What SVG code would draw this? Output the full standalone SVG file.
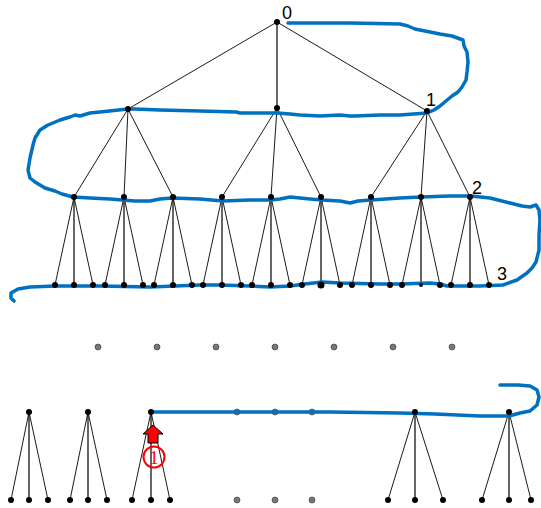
<svg xmlns="http://www.w3.org/2000/svg" width="541" height="508" viewBox="0 0 541 508">
<style>
.e{stroke:#000;stroke-width:0.9;fill:none}
.v{stroke:#000;stroke-width:1.2;fill:none}
.n{fill:#000}
.g{fill:#777;stroke:#333;stroke-width:0.6}
.lbl{font-family:"Liberation Sans",Arial,sans-serif;font-size:18px;fill:#000}
.blue{fill:none;stroke:#0070C0;stroke-width:3.5;stroke-linejoin:round;stroke-linecap:round}
</style>
<rect width="541" height="508" fill="#fff"/>
<g id="connectors">
<path class="e" d="M277,22L128,109M277,22L427,111"/>
<path class="v" d="M277,22L277,108"/>
<path class="e" d="M128,109L74,197M128,109L124,197M128,109L173,197M277,108L222,197M277,108L271,197M277,108L321,197M427,111L371,197M427,111L421,197M427,111L470,197"/>
<path class="e" d="M74,197L55,285M74,197L93,285M124,197L105,285M124,197L143,285M173,197L154,285M173,197L192,285M222,197L203,285M222,197L241,285M271,197L252,285M271,197L290,285M321,197L302,285M321,197L340,285M371,197L352,285M371,197L390,285M421,197L402,285M421,197L440,285M470,197L451,285M470,197L489,285"/>
<path class="v" d="M74,197V285M124,197V285M173,197V285M222,197V285M271,197V285M321,197V285M371,197V285M421,197V285M470,197V285"/>
<path class="e" d="M29,412L11,500M29,412L48,500M88,412L70,500M88,412L107,500M151,412L132,500M151,412L170,500M415,412L388,500M415,412L443,500M509,412L482,500M509,412L531,500"/>
<path class="v" d="M29,412V500M88,412V500M151,412V500M415,412V500M509,412V500"/>
</g>
<g id="ellipsis">
<circle class="g" cx="98" cy="347" r="3"/><circle class="g" cx="157" cy="347" r="3"/><circle class="g" cx="216" cy="347" r="3"/><circle class="g" cx="275" cy="347" r="3"/><circle class="g" cx="334" cy="347" r="3"/><circle class="g" cx="393" cy="347" r="3"/><circle class="g" cx="452" cy="347" r="3"/>
<circle class="g" cx="237" cy="412" r="3"/><circle class="g" cx="275" cy="412" r="3"/><circle class="g" cx="312" cy="412" r="3"/>
<circle class="g" cx="237" cy="500" r="3"/><circle class="g" cx="275" cy="500" r="3"/><circle class="g" cx="312" cy="500" r="3"/>
</g>
<g id="strokes">
<polyline class="blue" points="288,23 350,23 400,24 408,26 415,29 425,31 440,34 452,36 463,40 464,46 467,52 468,62 467,72 466,80 462,87 458,92 452,96 446,101 440,106 434,110 427,113 400,115 380,115 355,116 350,116 340,115 320,116 300,115 290,114 277,113 240,113 236,112 200,111 160,110 135,109 128,109 100,112 90,113 80,116 75,115 70,117 60,120 48,125 40,130 35,138 33,145 30,158 28,170 30,178 35,182 45,188 55,191 62,194 73,197 90,198 110,199 123,200 135,201 150,201 160,199 172,198 200,199 223,201 250,200 270,200 280,199 290,197 310,199 322,200 340,201 350,203 358,201 371,200 400,198 421,197 450,196 471,196 490,198 510,203 522,206 530,207 536,205 539,210 540,220 539,235 539,250 536,262 532,268 527,273 517,280 503,285 480,286 460,286 447,286 440,284 430,283 400,284 380,284 340,283 322,282 305,284 290,286 270,287 250,286 220,285 200,285 175,286 150,287 100,286 55,286 30,287 18,289 11,293 11,298 14,301"/>
<polyline class="blue" points="151,412 250,412 330,412 400,413 435,414 480,416 509,416 520,413 530,411 537,405 539,397 537,390 530,386 518,385 500,385"/>
</g>
<g id="n0"><circle class="n" cx="277" cy="22" r="3"/></g>
<g id="n1a"><circle class="n" cx="128" cy="109" r="3"/></g>
<g id="n1b"><circle class="n" cx="277" cy="108" r="3"/></g>
<g id="n1c"><circle class="n" cx="427" cy="111" r="3"/></g>
<g id="n2a"><circle class="n" cx="74" cy="197" r="3"/></g>
<g id="n2b"><circle class="n" cx="124" cy="197" r="3"/></g>
<g id="n2c"><circle class="n" cx="173" cy="197" r="3"/></g>
<g id="n2d"><circle class="n" cx="222" cy="197" r="3"/></g>
<g id="n2e"><circle class="n" cx="271" cy="197" r="3"/></g>
<g id="n2f"><circle class="n" cx="321" cy="197" r="3"/></g>
<g id="n2g"><circle class="n" cx="371" cy="197" r="3"/></g>
<g id="n2h"><circle class="n" cx="421" cy="197" r="3"/></g>
<g id="n2i"><circle class="n" cx="470" cy="197" r="3"/></g>
<g id="n3">
<circle class="n" cx="55" cy="285" r="3"/><circle class="n" cx="74" cy="285" r="3"/><circle class="n" cx="93" cy="285" r="3"/>
<circle class="n" cx="105" cy="285" r="3"/><circle class="n" cx="124" cy="285" r="3"/><circle class="n" cx="143" cy="285" r="3"/>
<circle class="n" cx="154" cy="285" r="3"/><circle class="n" cx="173" cy="285" r="3"/><circle class="n" cx="192" cy="285" r="3"/>
<circle class="n" cx="203" cy="285" r="3"/><circle class="n" cx="222" cy="285" r="3"/><circle class="n" cx="241" cy="285" r="3"/>
<circle class="n" cx="252" cy="285" r="3"/><circle class="n" cx="271" cy="285" r="3"/><circle class="n" cx="290" cy="285" r="3"/>
<circle class="n" cx="302" cy="285" r="3"/><circle class="n" cx="321" cy="285" r="3.5"/><circle class="n" cx="340" cy="285" r="3"/>
<circle class="n" cx="352" cy="285" r="3"/><circle class="n" cx="371" cy="285" r="3"/><circle class="n" cx="390" cy="285" r="3"/>
<circle class="n" cx="402" cy="285" r="3"/><circle class="n" cx="421" cy="285" r="2"/><circle class="n" cx="440" cy="285" r="3"/>
<circle class="n" cx="451" cy="285" r="3"/><circle class="n" cx="470" cy="285" r="3"/><circle class="n" cx="489" cy="285" r="3"/>
</g>
<g id="b1"><circle class="n" cx="29" cy="412" r="3"/><circle class="n" cx="11" cy="500" r="3"/><circle class="n" cx="29" cy="500" r="3"/><circle class="n" cx="48" cy="500" r="3"/></g>
<g id="b2"><circle class="n" cx="88" cy="412" r="3"/><circle class="n" cx="70" cy="500" r="3"/><circle class="n" cx="88" cy="500" r="3"/><circle class="n" cx="107" cy="500" r="3"/></g>
<g id="b3"><circle class="n" cx="151" cy="412" r="3"/><circle class="n" cx="132" cy="500" r="3"/><circle class="n" cx="151" cy="500" r="3"/><circle class="n" cx="170" cy="500" r="3"/></g>
<g id="b4"><circle class="n" cx="415" cy="412" r="3"/><circle class="n" cx="388" cy="500" r="3"/><circle class="n" cx="415" cy="500" r="3"/><circle class="n" cx="443" cy="500" r="3"/></g>
<g id="b5"><circle class="n" cx="509" cy="412" r="3"/><circle class="n" cx="482" cy="500" r="3"/><circle class="n" cx="509" cy="500" r="3"/><circle class="n" cx="531" cy="500" r="3"/></g>
<g id="labels">
<text class="lbl" x="282" y="19">0</text>
<text class="lbl" x="426" y="106">1</text>
<text class="lbl" x="472" y="194">2</text>
<text class="lbl" x="497" y="280">3</text>
</g>
<g id="marker">
<polygon points="153,425 163,434 158,434 158,443 148,443 148,434 143,434" fill="#f00" stroke="#000" stroke-width="1"/>
<circle cx="154" cy="457" r="10.5" fill="none" stroke="#f00" stroke-width="2"/>
<text x="154" y="464" text-anchor="middle" font-family="Liberation Serif,Times New Roman,serif" font-size="19" fill="#f00">1</text>
</g>
</svg>
